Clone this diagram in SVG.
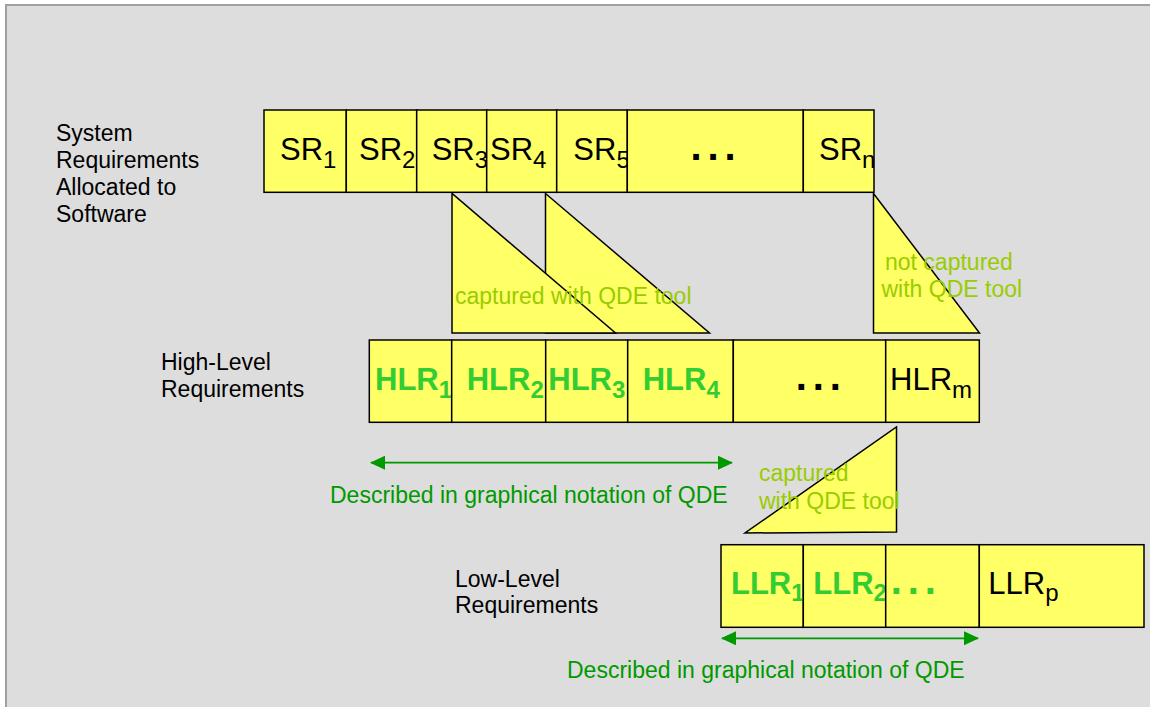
<svg xmlns="http://www.w3.org/2000/svg" width="1150" height="707" viewBox="0 0 1150 707">
<defs>
<style>
text{font-family:"Liberation Sans",Arial,sans-serif;}
.cell{fill:#FFFF66;stroke:#000;stroke-width:1.5;}
.tri{fill:#FFFF66;stroke:#000;stroke-width:1.5;stroke-linejoin:miter;}
.big{font-size:31px;fill:#000;}
.bold{font-weight:bold;fill:#33CC33;}
.sub{font-size:24px;}
.dots{font-size:40px;font-weight:bold;letter-spacing:5.9px;text-anchor:middle;}
.lbl{font-size:23px;fill:#000;}
.note{font-size:23px;fill:#99CC00;}
.desc{font-size:23px;fill:#009900;}
.arr{stroke:#009900;stroke-width:1.8;fill:none;marker-start:url(#ah);marker-end:url(#ah);}
</style>
<marker id="ah" viewBox="0 0 15 14" refX="14" refY="7" markerWidth="15" markerHeight="14" markerUnits="userSpaceOnUse" orient="auto-start-reverse">
<path d="M0,0 L15,7 L0,14 Z" fill="#009900"/>
</marker>
</defs>
<rect x="0" y="0" width="1150" height="707" fill="#FFFFFF"/>
<rect x="6" y="5" width="1160" height="720" fill="#DDDDDD" stroke="#A0A0A0" stroke-width="2"/>

<g id="label-sr">
<text class="lbl"><tspan x="56" y="141">System</tspan><tspan x="56" y="168">Requirements</tspan><tspan x="56" y="195">Allocated to</tspan><tspan x="56" y="222">Software</tspan></text>
</g>
<g id="label-hlr">
<text class="lbl"><tspan x="161" y="370">High-Level</tspan><tspan x="161" y="397">Requirements</tspan></text>
</g>
<g id="label-llr">
<text class="lbl"><tspan x="455" y="587">Low-Level</tspan><tspan x="455" y="613">Requirements</tspan></text>
</g>

<g id="connectors">
<polygon class="tri" points="545.5,193.5 545.5,333 709.5,333"/>
<polygon class="tri" points="452,193.5 452,333 615.5,333"/>
<text class="note" x="455" y="304">captured with QDE tool</text>
<polygon class="tri" points="873.5,193.5 873.5,333 979.5,333"/>
<text class="note"><tspan x="885" y="270">not captured</tspan><tspan x="881.5" y="297">with QDE tool</tspan></text>
<polygon class="tri" points="896.5,427 896.5,532 745,533"/>
<text class="note"><tspan x="759" y="481">captured</tspan><tspan x="759" y="508.5">with QDE tool</tspan></text>
<line class="arr" x1="371" y1="462.7" x2="732" y2="462.7"/>
<text class="desc" x="330" y="503.3">Described in graphical notation of QDE</text>
<line class="arr" x1="722" y1="638.3" x2="978" y2="638.3"/>
<text class="desc" x="567" y="678.3">Described in graphical notation of QDE</text>
</g>

<g id="sr1"><rect class="cell" x="264" y="110" width="82.3" height="82.3"/><text class="big" x="280" y="160">SR<tspan class="sub" dy="7.7">1</tspan></text></g>
<g id="sr2"><rect class="cell" x="346.3" y="110" width="70.4" height="82.3"/><text class="big" x="359" y="160">SR<tspan class="sub" dy="7.7">2</tspan></text></g>
<g id="sr3"><rect class="cell" x="416.7" y="110" width="70" height="82.3"/><text class="big" x="431.7" y="160">SR<tspan class="sub" dy="7.7">3</tspan></text></g>
<g id="sr4"><rect class="cell" x="486.7" y="110" width="70" height="82.3"/><text class="big" x="490" y="160">SR<tspan class="sub" dy="7.7">4</tspan></text></g>
<g id="sr5"><rect class="cell" x="556.7" y="110" width="70.6" height="82.3"/><text class="big" x="573.3" y="160">SR<tspan class="sub" dy="7.7">5</tspan></text></g>
<g id="sr-dots"><rect class="cell" x="627.3" y="110" width="176" height="82.3"/><text class="big dots" x="716" y="159.5">...</text></g>
<g id="srn"><rect class="cell" x="803.3" y="110" width="70.7" height="82.3"/><text class="big" x="819" y="160">SR<tspan class="sub" dy="7.7">n</tspan></text></g>

<g id="hlr1"><rect class="cell" x="369.3" y="340" width="82.4" height="82.3"/><text class="big bold" x="375" y="390">HLR<tspan class="sub" dy="7.7">1</tspan></text></g>
<g id="hlr2"><rect class="cell" x="451.7" y="340" width="94" height="82.3"/><text class="big bold" x="466.7" y="390">HLR<tspan class="sub" dy="7.7">2</tspan></text></g>
<g id="hlr3"><rect class="cell" x="545.7" y="340" width="82" height="82.3"/><text class="big bold" x="548.3" y="390">HLR<tspan class="sub" dy="7.7">3</tspan></text></g>
<g id="hlr4"><rect class="cell" x="627.7" y="340" width="105.6" height="82.3"/><text class="big bold" x="642.7" y="390">HLR<tspan class="sub" dy="7.7">4</tspan></text></g>
<g id="hlr-dots"><rect class="cell" x="733.3" y="340" width="152.4" height="82.3"/><text class="big dots" x="821.3" y="389.5">...</text></g>
<g id="hlrm"><rect class="cell" x="885.7" y="340" width="93.6" height="82.3"/><text class="big" x="890" y="390">HLR<tspan class="sub" dy="7.7">m</tspan></text></g>

<g id="llr1"><rect class="cell" x="721" y="544.7" width="82.3" height="82.6"/><text class="big bold" x="731" y="593.5">LLR<tspan class="sub" dy="7.7">1</tspan></text></g>
<g id="llr2"><rect class="cell" x="803.3" y="544.7" width="82.4" height="82.6"/><text class="big bold" x="813.3" y="593.5">LLR<tspan class="sub" dy="7.7">2</tspan></text></g>
<g id="llr-dots"><rect class="cell" x="885.7" y="544.7" width="93.6" height="82.6"/><text class="big bold dots" x="916.3" y="593.5">...</text></g>
<g id="llrp"><rect class="cell" x="979.3" y="544.7" width="164.7" height="82.6"/><text class="big" x="988.3" y="593.5">LLR<tspan class="sub" dy="7.7">p</tspan></text></g>
</svg>
